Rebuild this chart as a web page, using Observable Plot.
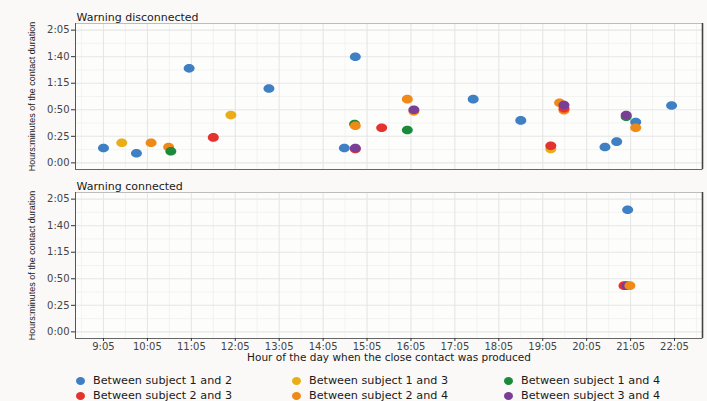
<!DOCTYPE html>
<html>
<head>
<meta charset="utf-8">
<script src="https://cdn.jsdelivr.net/npm/d3@7"></script>
<script src="https://cdn.jsdelivr.net/npm/@observablehq/plot@0.6"></script>
<style>
  html, body { margin: 0; padding: 0; background: #faf9f7; }
  #chart { width: 707px; height: 401px; overflow: hidden; position: relative; }
  #chart svg { display: block; }
  .legend { position: relative; height: 35px; font-family: "DejaVu Sans", sans-serif; font-size: 11.2px; color: #1a1a1a; }
  .legend .item { position: absolute; display: flex; align-items: center; white-space: nowrap; height: 14px; line-height: 14px; }
  .legend .sw { width: 9px; height: 8px; border-radius: 50%; margin-right: 8px; flex: none; }
</style>
</head>
<body>
<div id="chart"></div>
<script>
// Contact pairs and their colours
const pairs = [
  "Between subject 1 and 2",
  "Between subject 1 and 3",
  "Between subject 1 and 4",
  "Between subject 2 and 3",
  "Between subject 2 and 4",
  "Between subject 3 and 4"
];
const pairColors = ["#3f7fc4", "#e9ae17", "#1d8a3b", "#e4322e", "#ef8a17", "#7a3e97"];

// Axis tick labels
const hourTicks = ["9:05", "10:05", "11:05", "12:05", "13:05", "14:05", "15:05",
  "16:05", "17:05", "18:05", "19:05", "20:05", "21:05", "22:05"];
const durationTicks = ["0:00", "0:25", "0:50", "1:15", "1:40", "2:05"];

// Warning disconnected: time of contact, duration (minutes), pair index
const discTime = ["9:05", "9:30", "9:50", "10:10", "10:34", "10:37", "11:02", "11:35",
  "11:59", "12:51", "14:34", "14:49", "14:49", "14:49", "14:48", "14:49", "15:25",
  "16:00", "16:00", "16:09", "16:09", "17:30", "18:35", "19:16", "19:16", "19:28",
  "19:34", "19:34", "19:34", "20:30", "20:46", "20:59", "20:59", "21:12", "21:12", "22:01"];
const discMinutes = [14, 19, 9, 19, 15, 11, 89, 24,
  45, 70, 14, 13, 14, 100, 36.5, 35, 33,
  60, 31, 48.5, 50, 60, 40, 13, 16, 56.5,
  49.5, 51.5, 54.5, 15, 20, 43.5, 45, 38.5, 33, 54];
const discPair = [0, 1, 0, 4, 4, 2, 0, 3,
  1, 0, 0, 3, 5, 0, 2, 4, 3,
  4, 2, 4, 5, 0, 0, 1, 3, 4,
  4, 3, 5, 0, 0, 2, 5, 0, 4, 0];

// Warning connected
const connTime = ["21:01", "20:56", "21:00", "21:04"];
const connMinutes = [115, 43.5, 43.5, 43.5];
const connPair = [0, 3, 5, 4];

const yTitle = "Hours:minutes of the contact duration";
const xTitle = "Hour of the day when the close contact was produced";

const parse = s => { const [h, m] = s.split(":").map(Number); return h * 60 + m; };

const xTickVals = hourTicks.map(parse);
const yTickVals = durationTicks.map(parse);
const xSpan = xTickVals[xTickVals.length - 1] - xTickVals[0];
const ySpan = yTickVals[yTickVals.length - 1] - yTickVals[0];
const xDomain = [xTickVals[0] - 0.049 * xSpan, xTickVals[xTickVals.length - 1] + 0.049 * xSpan];
const yDomain = [yTickVals[0] - 0.05 * ySpan, yTickVals[yTickVals.length - 1] + 0.05 * ySpan];
const xMinor = [xTickVals[0] - 30, ...xTickVals.map(v => v + 30)].filter(v => v > xDomain[0] && v < xDomain[1]);
const yMinor = yTickVals.slice(1).map(v => v - 12.5);

// ellipse-shaped point symbol
const ellipse = {
  draw(ctx, size) {
    const r = Math.sqrt(size / Math.PI), rx = r * 1.1, ry = r * 0.86, k = 0.5523;
    ctx.moveTo(rx, 0);
    ctx.bezierCurveTo(rx, k * ry, k * rx, ry, 0, ry);
    ctx.bezierCurveTo(-k * rx, ry, -rx, k * ry, -rx, 0);
    ctx.bezierCurveTo(-rx, -k * ry, -k * rx, -ry, 0, -ry);
    ctx.bezierCurveTo(k * rx, -ry, rx, -k * ry, rx, 0);
    ctx.closePath();
  }
};

function panel(title, time, minutes, pair, {height, marginTop, marginBottom, showX, titleDy}) {
  const idx = d3.range(time.length);
  const marks = [
    Plot.frame({fill: "#fdfdfc"}),
    Plot.ruleX(xMinor, {stroke: "#f0f0f0", strokeWidth: 0.8}),
    Plot.ruleY(yMinor, {stroke: "#f0f0f0", strokeWidth: 0.8}),
    Plot.ruleX(xTickVals, {stroke: "#e6e6e6", strokeWidth: 1.1}),
    Plot.ruleY(yTickVals, {stroke: "#e6e6e6", strokeWidth: 1.1}),
    Plot.frame({stroke: "#bdbdbd"}),
    Plot.ruleX([xDomain[0]], {stroke: "#555"}),
    Plot.ruleX([xDomain[1]], {stroke: "#444", strokeWidth: 1.6}),
    Plot.ruleY([yDomain[0]], {stroke: "#666"}),
    Plot.axisY({ticks: yTickVals, tickFormat: d => durationTicks[yTickVals.indexOf(d)],
      tickSize: 4, tickPadding: 2, label: null, fill: "#444", stroke: "#333"}),
    Plot.dot(idx, {
      x: i => parse(time[i]), y: i => minutes[i], fill: i => pairs[pair[i]],
      symbol: ellipse, r: 5
    }),
    Plot.text([title], {frameAnchor: "top-left", dx: 1, dy: titleDy, lineAnchor: "bottom",
      textAnchor: "start", fontSize: 11, fill: "#1a1a1a"}),
    Plot.text([yTitle], {frameAnchor: "left", dx: -43, rotate: -90, textAnchor: "middle",
      lineAnchor: "middle", fontFamily: "Liberation Sans, Arial, sans-serif", fontSize: 9, fill: "#1a1a1a"})
  ];
  if (showX) {
    marks.push(
      Plot.axisX({ticks: xTickVals, tickFormat: d => hourTicks[xTickVals.indexOf(d)],
        tickSize: 3, tickPadding: 1, label: null, fill: "#444", stroke: "#333"}),
      Plot.text([xTitle], {frameAnchor: "bottom", dy: 19, lineAnchor: "middle",
        textAnchor: "middle", fontSize: 10.5, fill: "#1a1a1a"})
    );
  }
  return Plot.plot({
    width: 707,
    height,
    marginLeft: 75,
    marginRight: 5,
    marginTop,
    marginBottom,
    style: {background: "transparent", fontFamily: "DejaVu Sans, sans-serif", fontSize: "10px", overflow: "visible"},
    x: {domain: xDomain, axis: null},
    y: {domain: yDomain, axis: null},
    color: {domain: pairs, range: pairColors},
    marks
  });
}

const chart = document.getElementById("chart");
chart.append(panel("Warning disconnected", discTime, discMinutes, discPair,
  {height: 174, marginTop: 23, marginBottom: 5, showX: false, titleDy: -3}));
chart.append(panel("Warning connected", connTime, connMinutes, connPair,
  {height: 192, marginTop: 18, marginBottom: 28, showX: true, titleDy: -3}));

// Legend: three columns, two rows
const legend = document.createElement("div");
legend.className = "legend";
const colLeft = [76, 292, 504];
const rowTop = [8, 23];
pairs.forEach((p, i) => {
  const item = document.createElement("div");
  item.className = "item";
  item.style.left = colLeft[i % 3] + "px";
  item.style.top = rowTop[Math.floor(i / 3)] + "px";
  const sw = document.createElement("span");
  sw.className = "sw";
  sw.style.background = pairColors[i];
  const label = document.createElement("span");
  label.textContent = p;
  item.append(sw, label);
  legend.append(item);
});
chart.append(legend);
</script>
</body>
</html>
